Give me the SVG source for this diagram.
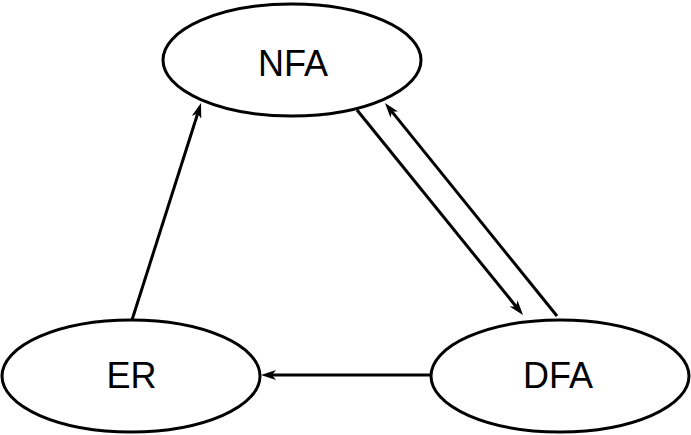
<svg xmlns="http://www.w3.org/2000/svg" width="691" height="435" viewBox="0 0 691 435">
  <style>
    .node ellipse { fill: #ffffff; stroke: #000000; stroke-width: 3; }
    .node text { font-family: "Liberation Sans", Arial, sans-serif; font-size: 36px; fill: #000000; text-anchor: middle; }
    .edge { stroke: #000000; stroke-width: 3; fill: none; marker-end: url(#arrow); }
  </style>
  <defs>
    <marker id="arrow" viewBox="0 0 15 10" refX="4" refY="5" markerWidth="15" markerHeight="10" markerUnits="userSpaceOnUse" orient="auto">
      <path d="M15 5 L0 0 L4 5 L0 10 Z" fill="#000000"/>
    </marker>
  </defs>
  <rect width="691" height="435" fill="#ffffff"/>

  <g id="connectors">
    <line class="edge" x1="132" y1="320" x2="197.7" y2="113.5"/>
    <line class="edge" x1="357" y1="110" x2="516.1" y2="306.5"/>
    <line class="edge" x1="557" y1="316" x2="391.9" y2="111.6"/>
    <line class="edge" x1="431" y1="375" x2="272" y2="375"/>
  </g>

  <g id="node-nfa" class="node">
    <ellipse cx="292" cy="60" rx="129" ry="56"/>
    <text x="293" y="76">NFA</text>
  </g>
  <g id="node-er" class="node">
    <ellipse cx="131" cy="376" rx="129" ry="56"/>
    <text x="131.5" y="388">ER</text>
  </g>
  <g id="node-dfa" class="node">
    <ellipse cx="560" cy="376" rx="129" ry="56"/>
    <text x="558" y="388">DFA</text>
  </g>
</svg>
